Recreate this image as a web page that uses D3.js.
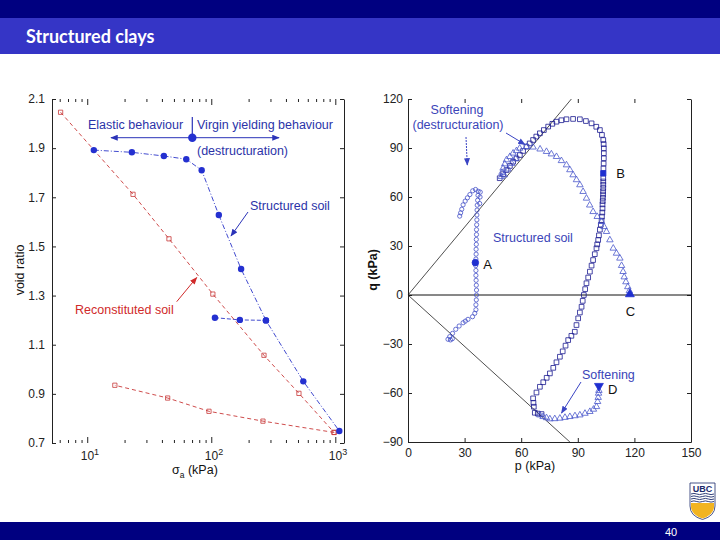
<!DOCTYPE html>
<html>
<head>
  <meta charset="utf-8">
  <title>Structured clays</title>
  <script src="https://cdn.jsdelivr.net/npm/d3@7"></script>
  <style>
    body { margin: 0; font-family: "Liberation Sans", Arial; }
    .axis text { font-family: "Liberation Sans", Arial; font-size: 12px; fill: #222; }
    .axis line, .axis path { stroke: #222; stroke-width: 1; }
  </style>
</head>
<body>
<div id="svgcontainer"></div>
<script>
var width = 720;
var height = 540;

// ----- Data -----

// left plot: [sigma_a (kPa), void ratio]
var structLoad = [[11.3,1.892],[22.9,1.883],[41.5,1.868],[62.9,1.855],[83.7,1.810],
                  [115,1.628],[174,1.408],[276,1.199],[552,0.951],[1077,0.749]];
var structReload = [[107,1.210],[170,1.201],[276,1.199]];
var reconLoad = [[6.1,2.046],[23.4,1.712],[45.6,1.531],[103,1.306],[266,1.057],
                 [509,0.902],[977,0.743]];
var reconUnload = [[977,0.743],[261,0.789],[95.8,0.829],[44.5,0.883],[16.7,0.935]];
var voidTicks = [0.7, 0.9, 1.1, 1.3, 1.5, 1.7, 1.9, 2.1];
var sigmaTicks = [10, 100, 1000];

// right plot: [p (kPa), q (kPa)]
var pTicks = [0, 30, 60, 90, 120, 150];
var qTicks = [-90, -60, -30, 0, 30, 60, 90, 120];
var cslComp = [[0,0],[86.6,120]];
var cslExt = [[0,0],[85.8,-90]];

// path from A (circles)
var circlesUp = [[36.0,-6],[36.2,-3],[36.3,0],[36.3,3],[36.2,6],[36.1,9],[36.0,12],[36.0,15],
                 [35.9,18],[36.0,22],[36.1,25],[36.1,28],[36.2,31],[36.2,34],[36.3,37],[36.3,40],
                 [36.4,43],[36.5,46],[36.5,49],[36.6,52],[36.7,55],[36.9,58],[37.1,61],[37.2,63.5],
                 [35.8,64.6],[34.3,63.8],[32.8,61.5],[31.5,59.5],[30.3,57.5],[29.2,55.2],[28.5,52.5],
                 [27.9,50.3],[27.4,48.3],[38.0,56],[38.2,60],[38.3,63]];
var circlesDown = [[36.0,-9],[35.4,-11.2],[34.2,-13.3],[31.8,-14.9],[30.4,-16],[29.2,-17],
                   [27.1,-19],[25.3,-21],[23.6,-23.5],[22.1,-25.5],[21.2,-27.1],[22.5,-27.5],
                   [23.5,-26.8]];
var pointA = [35.7, 19.8];

// path from B (squares)
var squaresUp = [[103.6,77.5],[103.7,80.5],[103.8,83.7],[103.8,86.8],[103.8,89.8],[103.7,92.4],
                 [103.5,94.9],[102.8,98],[101.7,101],[99.8,103],[97.3,105.1],[94.3,106.5],
                 [91.1,107.6],[87.5,107.8],[84,107.6],[81.3,107],[78.7,106.1],[76.5,104.8],
                 [74.3,103.1],[72,101],[69.9,99],[68,97],[66.3,94.9],[64.5,92.8],[62.8,90.8],
                 [61,88.2],[59.3,85.7],[57.5,83.6],[55.7,81.6],[54,79],[52.2,76.5],[50.4,74],
                 [48.6,71.5]];
var squaresDown = [[103.5,71.5],[103.5,69.5],[103.5,67.5],[103.5,65.5],[103.4,63.5],[103.4,61.5],
                   [103.3,59.5],[103.2,57.5],[103.1,55.5],[103.1,53],[103,50.5],[102.8,48],
                   [102.6,45.5],[102.2,43],[101.7,40],[101.2,36.5],[100.8,33.7],[100.3,31],
                   [99.9,28.6],[99,25],[98.1,21.4],[97.3,18],[96.4,14.3],[95.5,10.7],[94.6,7.2],
                   [93.9,3.6],[93.2,0],[92.6,-3.6],[92,-7.2],[91.1,-10.7],[90.2,-14.3],[89.3,-18.4],
                   [88.4,-22.5],[86.6,-25],[84.9,-27.6],[83.5,-31],[82,-34.5],[80.5,-37.8],
                   [78.7,-41.2],[77,-44.6],[75.2,-48],[73.5,-50.7],[71.7,-53.4],[69.9,-56.2],
                   [68.1,-59.7],[66.3,-63.3],[66.5,-66],[66.7,-68.4],[67.2,-72.1],[68.8,-72.6],
                   [70.8,-72.9]];
var pointB = [103.5, 74.5];

// path from C (triangles)
var trianglesUp = [[117.3,2.5],[116.5,5],[115.5,8],[114.6,11],[114,14.3],[113.2,18],[112.3,22.5],
                   [110.5,25.5],[108.8,28.6],[107,33.7],[105.2,38.8],[103.9,41.8],[102.6,44.9],
                   [100.3,48],[98.1,51],[96.3,55],[94.6,59.2],[92.8,63.3],[91.1,67.4],[89.3,70.5],
                   [87.5,73.5],[85.8,76.6],[84,79.6],[81.3,82.2],[78.7,84.7],[76,86.3],[73.4,87.8],
                   [70,89.3],[66.3,90.5],[62.8,90.8],[59.2,89.8],[57.5,88.3],[55.7,86.8],[54,84.7],
                   [52.2,82.7],[51.3,80.2],[50.4,77.6],[49.8,75],[49.5,72.4],[51,73.5],[53,77],
                   [55,80.5],[57,83.5]];
var pointC = [117.6, 0.5];

// path from D (triangles)
var trianglesDown = [[101.2,-58.5],[101,-60.2],[100.8,-62.8],[100.5,-65.3],[99.9,-68.4],[98.3,-70],
                     [96.4,-71.4],[93.8,-72.5],[91.1,-73.5],[88.5,-74],[85.8,-74.5],[83.2,-75],
                     [80.5,-75.5],[77.8,-75.8],[75.2,-75.9],[73.4,-75.2],[71.6,-74.5],[69.9,-73.5]];
var pointD = [101.2, -55.7];

// ----- Helpers -----

function addRect(ctx, x, y, w, h, c) {
   return ctx.append('rect')
      .attr('x', x).attr('y', y)
      .attr('width', w).attr('height', h)
      .attr('fill', c);
}

function addText(ctx, x, y, s, c, size, atts) {
   let obj = ctx.append('text')
      .attr('x', x).attr('y', y)
      .attr('fill', c)
      .attr('font-size', size)
      .text(s);
   if (atts) {
      for (let att of atts) {
         obj.attr(...att);
      }
   }
   return obj;
}

function addArrow(ctx, x1, y1, x2, y2, c, head, dash) {
   return ctx.append('line')
      .attr('x1', x1).attr('y1', y1)
      .attr('x2', x2).attr('y2', y2)
      .attr('stroke', c)
      .attr('stroke-width', 1)
      .attr('stroke-dasharray', dash || null)
      .attr('marker-end', 'url(#' + head + ')');
}

function addHead(defs, id, c) {
   defs.append('marker')
      .attr('id', id)
      .attr('viewBox', '0 0 10 8')
      .attr('refX', 9).attr('refY', 4)
      .attr('markerWidth', 8).attr('markerHeight', 6)
      .attr('markerUnits', 'userSpaceOnUse')
      .attr('orient', 'auto')
      .append('path')
      .attr('d', 'M0,0 L10,4 L0,8 Z')
      .attr('fill', c);
}

function addSymbols(ctx, pts, type, size, c, filled, xs, ys, rot) {
   let sym = d3.symbol().type(type).size(size);
   ctx.append('g').selectAll('path')
      .data(pts)
      .join('path')
      .attr('d', sym)
      .attr('transform', d => 'translate(' + xs(d[0]) + ',' + ys(d[1]) + ')' + (rot ? ' rotate(' + rot + ')' : ''))
      .attr('fill', filled ? c : 'none')
      .attr('stroke', c)
      .attr('stroke-width', 0.8);
}

// ----- Main -----

var svg = d3.select('#svgcontainer')
   .append('svg')
   .attr('width', width)
   .attr('height', height);

var defs = svg.append('defs');
addHead(defs, 'headBlue', '#2b33b8');
addHead(defs, 'headRed', '#d02a2a');
addHead(defs, 'headBlue2', '#3a44c4');

addRect(svg, 0, 0, width, height, 'white');

// slide header / footer
addRect(svg, 0, 0, width, 18, '#000080');
addRect(svg, 0, 18, width, 36, '#3535c6');
addText(svg, 26, 43, 'Structured clays', 'white', '18px',
   [['font-family', 'Lato, "Open Sans", sans-serif'], ['font-weight', 'bold']]);
addRect(svg, 0, 522, width, 18, '#000080');
addText(svg, 671, 536, '40', 'white', '11px', [['text-anchor', 'middle']]);

// UBC crest
var crest = svg.append('g');
crest.append('path')
   .attr('d', 'M690,483 L715,483 L715,506 Q715,516 702.5,519.5 Q690,516 690,506 Z')
   .attr('fill', 'white').attr('stroke', '#1b2a6b').attr('stroke-width', 0.8);
crest.append('path')
   .attr('d', 'M691,503 L714,503 L714,507 Q713.5,515 702.5,518.5 Q691.5,515 691,507 Z')
   .attr('fill', '#f2b420');
[494, 496.5, 499, 501.5].forEach(yy => {
   crest.append('path')
      .attr('d', 'M691,' + yy + ' q3,-1.2 5.75,0 t5.75,0 t5.75,0 t5.75,0')
      .attr('fill', 'none').attr('stroke', '#1b2a6b').attr('stroke-width', 0.9);
});
addText(crest, 702.5, 491.5, 'UBC', '#1b2a6b', '9px',
   [['text-anchor', 'middle'], ['font-weight', 'bold']]);

// ===== left plot: void ratio vs sigma_a =====
var x1 = d3.scaleLog().domain([5.2, 1175]).range([52, 344]);
var y1 = d3.scaleLinear().domain([0.7, 2.1]).range([443, 99]);
var minorTicks = x1.ticks().filter(d => sigmaTicks.indexOf(d) < 0);

var left = svg.append('g');

left.append('g').attr('class', 'axis')
   .attr('transform', 'translate(52,0)')
   .call(d3.axisLeft(y1).tickValues(voidTicks).tickSize(-4).tickSizeOuter(0)
      .tickPadding(7).tickFormat(d3.format('.1f')));
left.append('g').attr('class', 'axis')
   .attr('transform', 'translate(344,0)')
   .call(d3.axisRight(y1).tickValues(voidTicks).tickSize(-4).tickSizeOuter(0).tickFormat(''));

[[99, 'top'], [443, 'bottom']].forEach(([yy, side]) => {
   let ax = side == 'top' ? d3.axisTop : d3.axisBottom;
   let gMin = left.append('g').attr('class', 'axis').attr('transform', 'translate(0,' + yy + ')')
      .call(ax(x1).tickValues(minorTicks).tickSize(-3).tickFormat(''));
   gMin.select('.domain').remove();
   let gMaj = left.append('g').attr('class', 'axis').attr('transform', 'translate(0,' + yy + ')')
      .call(ax(x1).tickValues(sigmaTicks).tickSize(-6).tickPadding(8).tickFormat(''));
   gMaj.select('.domain').remove();
   if (side == 'bottom') {
      gMaj.selectAll('.tick text').each(function(d) {
         let t = d3.select(this).attr('text-anchor', 'start').attr('x', -7);
         t.append('tspan').text('10');
         t.append('tspan').attr('dy', '-0.55em').attr('font-size', '9px')
            .text(Math.round(Math.log10(d)));
      });
   }
});

var line1 = d3.line().x(d => x1(d[0])).y(d => y1(d[1]));

left.append('path').datum(structLoad).attr('d', line1)
   .attr('fill', 'none').attr('stroke', '#2b35c8').attr('stroke-width', 0.9)
   .attr('stroke-dasharray', '5,2,1,2');
left.append('path').datum(structReload).attr('d', line1)
   .attr('fill', 'none').attr('stroke', '#2b35c8').attr('stroke-width', 0.9)
   .attr('stroke-dasharray', '4,2');
left.append('path').datum(reconLoad).attr('d', line1)
   .attr('fill', 'none').attr('stroke', '#c83838').attr('stroke-width', 0.9)
   .attr('stroke-dasharray', '4,3');
left.append('path').datum(reconUnload).attr('d', line1)
   .attr('fill', 'none').attr('stroke', '#c83838').attr('stroke-width', 0.9)
   .attr('stroke-dasharray', '4,3');

addSymbols(left, reconLoad.concat(reconUnload), d3.symbolSquare, 18, '#c83838', false, x1, y1);
left.append('g').selectAll('circle')
   .data(structLoad.concat(structReload))
   .join('circle')
   .attr('cx', d => x1(d[0])).attr('cy', d => y1(d[1]))
   .attr('r', 3.2).attr('fill', '#2430d0');

// left annotations
addText(left, 88, 129, 'Elastic behaviour', '#2b33a8', '12.5px');
addText(left, 197, 129, 'Virgin yielding behaviour', '#2b33a8', '12.5px');
addText(left, 197, 155, '(destructuration)', '#2b33a8', '12.5px');
left.append('line').attr('x1', 192.3).attr('y1', 117).attr('x2', 192.3).attr('y2', 137)
   .attr('stroke', '#2b33b8').attr('stroke-width', 1.2);
addArrow(left, 192, 137.7, 111, 137.7, '#2b33b8', 'headBlue');
addArrow(left, 192, 137.7, 279, 137.7, '#2b33b8', 'headBlue');
left.append('circle').attr('cx', 192.3).attr('cy', 137.7).attr('r', 4.2).attr('fill', '#2430d0');
addText(left, 250, 210, 'Structured soil', '#2b33a8', '12.5px');
addArrow(left, 248, 212, 231, 236, '#2b33b8', 'headBlue');
addText(left, 75, 314, 'Reconstituted soil', '#d02a2a', '12.5px');
addArrow(left, 176.7, 301.7, 196.7, 277.5, '#d02a2a', 'headRed');

addText(left, 24, 270, 'void ratio', '#111', '12.5px',
   [['text-anchor', 'middle'], ['transform', 'rotate(-90,24,270)']]);
var xl = addText(left, 172, 474, 'σ', '#111', '12.5px');
xl.append('tspan').attr('dy', 3.5).attr('font-size', '8.5px').text('a');
xl.append('tspan').attr('dy', -3.5).text(' (kPa)');

// ===== right plot: q vs p =====
var x2 = d3.scaleLinear().domain([0, 150]).range([408, 691]);
var y2 = d3.scaleLinear().domain([-90, 120]).range([442, 99]);

var right = svg.append('g');

right.append('g').attr('class', 'axis')
   .attr('transform', 'translate(408,0)')
   .call(d3.axisLeft(y2).tickValues(qTicks).tickSize(-4).tickSizeOuter(0).tickPadding(5));
right.append('g').attr('class', 'axis')
   .attr('transform', 'translate(691,0)')
   .call(d3.axisRight(y2).tickValues(qTicks).tickSize(-4).tickSizeOuter(0).tickFormat(''));
right.append('g').attr('class', 'axis')
   .attr('transform', 'translate(0,442)')
   .call(d3.axisBottom(x2).tickValues(pTicks).tickSize(-4).tickSizeOuter(0).tickPadding(6));
var topAx = right.append('g').attr('class', 'axis')
   .attr('transform', 'translate(0,99)')
   .call(d3.axisTop(x2).tickValues(pTicks.slice(1, 5)).tickSize(-4).tickFormat(''));
topAx.select('.domain').remove();

var line2 = d3.line().x(d => x2(d[0])).y(d => y2(d[1]));
right.append('line')
   .attr('x1', x2(0)).attr('x2', x2(150)).attr('y1', y2(0)).attr('y2', y2(0))
   .attr('stroke', '#111').attr('stroke-width', 1);
[cslComp, cslExt].forEach(l => {
   right.append('path').datum(l).attr('d', line2)
      .attr('fill', 'none').attr('stroke', '#222').attr('stroke-width', 0.8);
});

addSymbols(right, circlesUp.concat(circlesDown), d3.symbolCircle, 14, '#4450c8', false, x2, y2);
addSymbols(right, squaresUp.concat(squaresDown), d3.symbolSquare, 22, '#1a1a90', false, x2, y2);
addSymbols(right, trianglesUp.concat(trianglesDown), d3.symbolTriangle, 18, '#4a58cc', false, x2, y2);

addSymbols(right, [pointA], d3.symbolCircle, 34, '#1f2fd0', true, x2, y2);
addSymbols(right, [pointB], d3.symbolSquare, 28, '#1f2fd0', true, x2, y2);
addSymbols(right, [pointC], d3.symbolTriangle, 34, '#1f2fd0', true, x2, y2);
addSymbols(right, [pointD], d3.symbolTriangle, 34, '#1f2fd0', true, x2, y2, 180);

addText(right, x2(pointA[0]) + 8, y2(pointA[1]) + 6, 'A', '#111', '13px');
addText(right, x2(pointB[0]) + 13, y2(pointB[1]) + 5, 'B', '#111', '13px');
addText(right, x2(pointC[0]) - 4, y2(pointC[1]) + 22, 'C', '#111', '13px');
addText(right, x2(pointD[0]) + 9, y2(pointD[1]) + 8, 'D', '#111', '13px');

// right annotations
addText(right, 457, 114, 'Softening', '#3a44b8', '12.5px', [['text-anchor', 'middle']]);
addText(right, 458, 128.5, '(destructuration)', '#3a44b8', '12.5px', [['text-anchor', 'middle']]);
addArrow(right, 506, 133, 525, 144.5, '#3a44c4', 'headBlue2');
addArrow(right, 466, 137, 467.3, 165, '#3a44c4', 'headBlue2', '2,1');
addText(right, 493, 242, 'Structured soil', '#3a44b8', '12.5px');
addText(right, 582, 379, 'Softening', '#3a44b8', '12.5px');
addArrow(right, 581, 382, 561.5, 413, '#3a44c4', 'headBlue2');

addText(right, 377, 270, 'q (kPa)', '#111', '12.5px',
   [['text-anchor', 'middle'], ['font-weight', 'bold'], ['transform', 'rotate(-90,377,270)']]);
addText(right, 535, 470, 'p (kPa)', '#111', '12.5px', [['text-anchor', 'middle']]);

</script>
</body>
</html>
